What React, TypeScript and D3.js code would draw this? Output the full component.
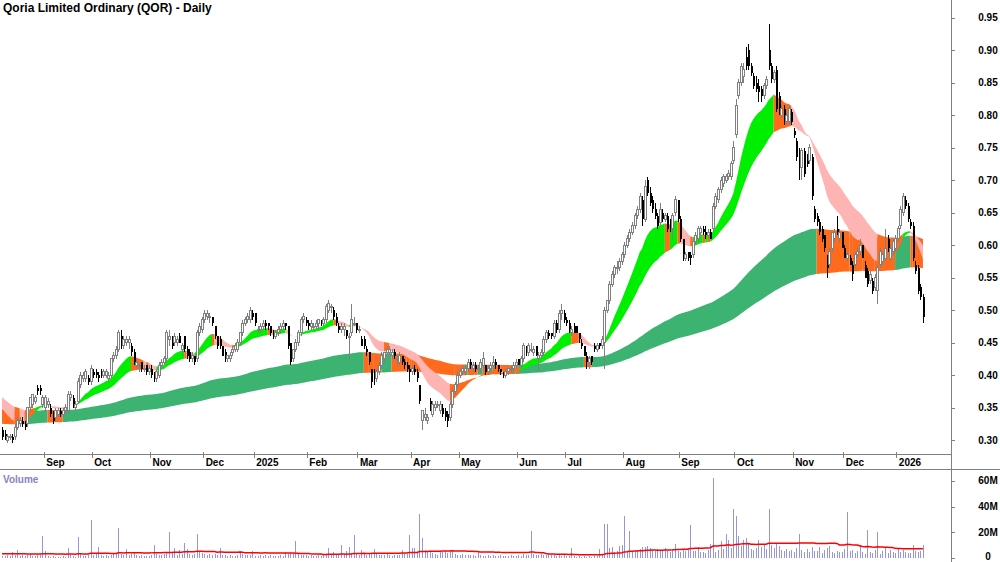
import React from 'react';
import * as d3 from 'd3';

// Qoria Limited (QOR) daily candles, prices in cents, volume in millions
const OPEN = [
  31.5, 31, 30, 30.5, 30.5, 30.5, 32, 32.5, 33, 32.5,
  32.5, 35, 35.5, 36, 38, 38, 35.5, 35, 35.5, 35,
  34.5, 33.5, 34, 34.5, 34, 34.5, 34.5, 36.5, 36.5, 35,
  36, 38.5, 39.5, 39.5, 39.5, 39, 40.5, 40.5, 40, 40.5,
  40, 40, 39.5, 40, 42.5, 43, 44, 46, 44.5, 45,
  45, 44.5, 43.5, 41.5, 41.5, 42, 41, 41.5, 40.5, 41,
  40, 39.5, 40, 41.5, 42, 42.5, 45.5, 46, 45, 45,
  46, 44, 46, 44, 43.5, 42.5, 43, 42.5, 46.5, 47,
  48.5, 49, 49, 49, 47.5, 46, 45.5, 44.5, 43.5, 42.5,
  42.5, 43.5, 44, 44, 45, 46.5, 48, 48.5, 48.5, 49.5,
  49.5, 47, 47, 47.5, 48, 48, 47.5, 46.5, 46, 46.5,
  47, 47.5, 48, 47.5, 45, 42.5, 44, 45, 46.5, 48.5,
  48.5, 48, 47.5, 47.5, 47.5, 48, 48.5, 48, 48.5, 50,
  50.5, 50, 49, 47.5, 47, 47, 47, 46, 46.5, 48,
  48, 47, 45.5, 45.5, 44, 43.5, 41, 40.5, 39.5, 40.5,
  41.5, 42.5, 43.5, 43.5, 43, 43.5, 42.5, 42, 43, 42,
  41.5, 41, 40.5, 41, 40.5, 38.5, 33, 33.5, 33, 36,
  34, 35, 35.5, 34.5, 35, 34.5, 34, 33.5, 35.5, 37.5,
  38.5, 40, 40.5, 40.5, 41, 42, 41, 41.5, 41, 41,
  41.5, 41.5, 40.5, 41, 41.5, 42, 41.5, 41, 40.5, 40,
  40.5, 41, 41, 41.5, 42.5, 41.5, 42.5, 44, 43.5, 44,
  43.5, 44.5, 42.5, 43, 43.5, 45.5, 46.5, 46.5, 46, 48,
  47, 49.5, 49.5, 48.5, 48, 46.5, 47.5, 47.5, 46.5, 45,
  44.5, 43, 42, 43, 44.5, 44, 45, 44.5, 45, 50,
  51.5, 54, 55.5, 56.5, 56.5, 57.5, 58.5, 60, 61, 62,
  63, 64.5, 65.5, 67, 64, 70, 68, 67, 65.5, 64.5,
  63.5, 65, 64, 64.5, 63, 62.5, 65, 67, 64, 61,
  58, 59, 58.5, 58.5, 60.5, 61, 62, 62.5, 62, 61.5,
  62, 62.5, 66, 67, 68.5, 69.5, 70, 70.5, 70.5, 73,
  77, 83, 85, 86, 89, 90, 87.5, 86, 85, 84.5,
  84, 83, 84.5, 90, 87.5, 85.5, 87, 83, 80, 81,
  79, 79, 80.5, 77.5, 76, 74.5, 72, 74.5, 73.5, 73,
  73.5, 65.5, 64.5, 63.5, 62.5, 61.5, 58, 57, 59.5, 61,
  62.5, 61, 62, 59.5, 58, 58, 57, 57, 58.5, 59,
  60, 57, 56, 54.5, 54.5, 53.5, 53, 57, 57.5, 58,
  61, 58, 59, 59.5, 61, 63, 65, 67, 66, 63.5,
  63, 57, 56.5, 53.5, 52,
];

const HIGH = [
  32, 31.5, 31, 31, 31, 32.5, 33.5, 33.5, 33.5, 33,
  35, 36.5, 37, 37, 38.5, 38.5, 37, 37, 36.5, 35.5,
  34.5, 35, 35, 35, 35, 35.5, 37.5, 37.5, 37, 36,
  39.5, 40.5, 40.5, 41, 40, 41.5, 41, 41, 40.5, 41,
  41, 41, 40.5, 42.5, 43.5, 44.5, 47, 47, 46, 46,
  46, 45, 44, 42.5, 42, 42, 41.5, 41.5, 41.5, 41.5,
  40.5, 41, 42, 42.5, 43, 47, 47, 46, 46.5, 46,
  46.5, 45, 46, 44.5, 44, 43.5, 43, 47, 48, 49,
  50, 50, 49.5, 49, 47.5, 46, 46, 44.5, 44, 43,
  43.5, 44.5, 45, 45.5, 46.5, 48.5, 49, 49.5, 50.5, 50,
  49.5, 47.5, 48, 48.5, 48.5, 48, 47.5, 47, 47, 47.5,
  48, 48.5, 48, 47.5, 45, 44, 45.5, 47, 49, 49.5,
  49, 48.5, 48.5, 48, 48.5, 48.5, 48.5, 49, 51, 51.5,
  51, 50.5, 49.5, 48, 48, 48, 47, 46.5, 51, 49,
  48, 47.5, 46, 46, 44.5, 43.5, 41, 41, 41, 42,
  43.5, 43.5, 44.5, 44.5, 44, 44, 43, 43.5, 43, 42.5,
  42, 41.5, 41.5, 41.5, 41, 38.5, 34.5, 35, 34, 36.5,
  36, 36, 36, 36, 35.5, 35, 34.5, 36, 38, 39,
  40.5, 41, 41.5, 41.5, 42.5, 42.5, 42, 42, 41.5, 42.5,
  43.5, 41.5, 41.5, 42, 43, 42.5, 41.5, 41, 40.5, 41,
  41, 41.5, 42, 42.5, 42.5, 43, 45, 44.5, 45, 45,
  44.5, 44.5, 43.5, 44, 46, 47, 47, 46.5, 48.5, 48.5,
  50, 51, 50, 49, 48.5, 47.5, 48, 47.5, 46.5, 45.5,
  44.5, 43.5, 43, 43, 45, 45, 45, 46, 50.5, 51.5,
  54.5, 56, 57, 57.5, 58, 59, 60.5, 61.5, 62.5, 63.5,
  65, 66, 68, 67.5, 70, 70.5, 69, 67.5, 66.5, 65,
  66.5, 65.5, 65, 65, 64, 65, 67.5, 67, 64.5, 61,
  59, 59, 59, 61, 62, 63, 63, 63, 63, 62.5,
  62.5, 66.5, 68, 69, 70.5, 71, 71, 71.5, 73, 76,
  82.5, 85.5, 88, 88, 90.5, 91, 88, 86.5, 86, 85.5,
  84.5, 85, 86, 94, 88, 87, 87.5, 83.5, 81.5, 81.5,
  80.5, 81.5, 81, 78, 76.5, 75, 75, 75, 74, 75.5,
  74, 66, 65, 64, 63, 61.5, 58.5, 59.5, 62, 62.5,
  64.5, 62.5, 62, 60, 59, 58.5, 57.5, 59, 59.5, 61,
  60, 57.5, 56.5, 56, 55, 55.5, 57, 59.5, 59, 62.5,
  61.5, 60, 61, 61.5, 63, 66, 68, 67.5, 66.5, 64,
  63.5, 57.5, 57, 54, 52.5,
];

const LOW = [
  30, 30, 29.5, 30, 29.5, 30, 31.5, 32, 32, 31.5,
  32, 34.5, 35, 35.5, 37, 37, 35, 34.5, 35, 33.5,
  32.5, 33, 33.5, 33.5, 33.5, 34, 34, 36, 35, 34.5,
  35.5, 38, 39, 39, 38.5, 38.5, 39.5, 39.5, 39, 39.5,
  39.5, 39.5, 39, 39.5, 42, 42.5, 43.5, 44, 44, 44.5,
  44, 43, 41.5, 41, 40.5, 40.5, 40.5, 40, 40, 39.5,
  39, 39, 39.5, 41, 41.5, 42, 44.5, 44, 44.5, 44.5,
  45, 43, 43.5, 42.5, 42, 42, 41.5, 42, 46, 46.5,
  48, 48.5, 48, 47.5, 45.5, 44, 44, 43, 42, 42,
  42, 43, 43.5, 43.5, 44.5, 46, 47.5, 48, 48, 48.5,
  47.5, 46.5, 46.5, 47, 47, 47, 46, 45.5, 45.5, 46,
  46.5, 47, 47, 44, 41.5, 42, 43.5, 44.5, 46, 48,
  47.5, 47, 47, 47, 47, 47, 47.5, 47.5, 48, 49.5,
  49.5, 48.5, 47.5, 46.5, 46.5, 46, 45.5, 42.5, 46, 47.5,
  46.5, 46.5, 44.5, 44, 43, 41.5, 38, 38.5, 39, 40,
  41, 42, 43, 43, 42.5, 42.5, 41.5, 41.5, 41.5, 41,
  40.5, 39, 40, 40, 39, 35.5, 31.5, 33, 32.5, 34.5,
  33.5, 34.5, 35, 34, 33.5, 33, 32, 33, 35, 37,
  38, 39.5, 40, 40, 40.5, 41, 40.5, 40.5, 40.5, 40.5,
  41, 40, 40, 40.5, 41, 41, 40.5, 40, 39.5, 39.5,
  40, 40.5, 40.5, 41, 41.5, 41, 42, 43, 43, 43.5,
  43, 43, 40.5, 42.5, 43, 45, 45.5, 45.5, 45.5, 46.5,
  46.5, 48.5, 48, 47.5, 46.5, 46, 46.5, 46.5, 45, 44,
  43, 41, 41, 41.5, 43.5, 43.5, 44, 44, 41, 49.5,
  51, 53.5, 55, 55.5, 56, 57, 58, 59.5, 60.5, 61.5,
  62.5, 64, 65, 63, 63.5, 67.5, 66, 65, 64, 62.5,
  63, 63.5, 63.5, 62, 62, 61, 64.5, 63.5, 60.5, 57.5,
  57.5, 57.5, 57, 58, 60, 60.5, 61.5, 61.5, 61, 61,
  61, 62, 65.5, 66.5, 68, 69, 69.5, 70, 70, 72.5,
  76.5, 82.5, 84.5, 85, 87, 87, 86, 84, 83.5, 82,
  82, 82.5, 84, 87, 85, 85, 80.5, 80, 79.5, 78.5,
  78.5, 78.5, 78.5, 76.5, 73, 70, 70, 70.5, 72, 72.5,
  67, 63.5, 63, 61.5, 60.5, 59, 55, 56.5, 59, 60.5,
  61.5, 60.5, 59.5, 58, 57.5, 57, 54.5, 56.5, 58, 58.5,
  58, 55, 53.5, 54, 52.5, 53, 51, 56.5, 57, 57.5,
  59, 57.5, 58.5, 59, 60.5, 62.5, 64.5, 65.5, 63.5, 62.5,
  57.5, 55.5, 52.5, 51.5, 48,
];

const CLOSE = [
  30.5, 30, 30.5, 30.5, 30, 32, 33, 33, 32.5, 32,
  35, 36.5, 37, 36.5, 37.5, 37.5, 36.5, 36.5, 36, 34,
  33, 34.5, 34.5, 34, 34.5, 35, 37, 37, 35.5, 35.5,
  39, 40, 40, 40.5, 39, 41, 40, 40, 39.5, 40,
  40.5, 40.5, 40, 42.5, 43, 44, 46.5, 45, 45.5, 45.5,
  45.5, 43.5, 42, 42, 41.5, 41, 41, 40.5, 41, 40,
  39.5, 40.5, 41.5, 42, 42.5, 46.5, 46, 44.5, 46, 45.5,
  45, 44.5, 44, 43, 42.5, 43, 42, 46.5, 47.5, 48.5,
  49.5, 49.5, 49, 48, 46, 44.5, 44.5, 43, 42.5, 43,
  43, 44, 44.5, 45, 46.5, 48, 48.5, 49, 50, 49,
  48, 47, 47.5, 48, 47.5, 47.5, 46.5, 46, 46.5, 47,
  47.5, 48, 47.5, 44.5, 42, 44, 45, 46.5, 48.5, 49,
  48, 47.5, 48, 47.5, 48, 48.5, 48, 48.5, 50.5, 51,
  50.5, 49, 48, 47, 47.5, 47.5, 46, 46, 48.5, 48,
  47, 47, 44.5, 44.5, 43.5, 42, 39, 39.5, 40.5, 41.5,
  43, 43.5, 44, 44, 43.5, 43, 42.5, 43, 42, 41.5,
  41, 40.5, 41, 40.5, 39.5, 36, 34.5, 34, 33.5, 35,
  35.5, 35.5, 35.5, 35.5, 34, 33.5, 33, 35.5, 37.5, 38.5,
  40, 40.5, 41, 41, 42, 41.5, 41.5, 41, 41, 42,
  42.5, 40.5, 41, 41.5, 42, 41.5, 41, 40.5, 40, 40.5,
  41, 41, 41.5, 42, 41.5, 42.5, 44.5, 43.5, 44.5, 44,
  44, 43, 43, 43.5, 45.5, 46.5, 46, 46, 48, 47,
  49.5, 50, 48.5, 48, 47, 47, 46.5, 46.5, 45.5, 44.5,
  43, 42, 42.5, 42, 44, 44.5, 44.5, 45.5, 50, 51.5,
  54, 55.5, 56.5, 56.5, 57.5, 58.5, 60, 61, 62, 63,
  64.5, 65.5, 67.5, 64, 69, 68, 66.5, 65.5, 64.5, 63,
  65.5, 64, 64.5, 62.5, 62.5, 64.5, 67, 64, 61, 58,
  58.5, 58, 58, 60.5, 61.5, 62.5, 62.5, 62, 61.5, 62,
  61, 66, 67.5, 68.5, 70, 70.5, 70.5, 71, 72.5, 75,
  81.5, 85, 87.5, 87, 87.5, 87.5, 86.5, 84.5, 84, 83.5,
  83, 84.5, 85.5, 87.5, 85.5, 86.5, 81, 80.5, 81, 79,
  80, 81, 79, 77, 73.5, 72, 74.5, 71, 72.5, 75,
  67.5, 64, 63.5, 62, 61, 59.5, 56.5, 59, 62, 62,
  62, 62, 59.5, 58, 58.5, 57, 55.5, 58.5, 59, 60,
  58, 55, 54, 55.5, 53, 55, 56.5, 59, 58.5, 59.5,
  59, 59.5, 60.5, 61, 62.5, 65.5, 67.5, 66, 64, 63,
  58, 56, 53, 52, 49,
];

const VOLUME = [
  2.1, 1.8, 2.5, 1.6, 5.0, 2.2, 6.7, 1.9, 2.4, 1.5,
  2.8, 3.1, 2.0, 1.7, 2.2, 2.6, 17.0, 5.5, 1.4, 1.2,
  1.8, 1.1, 0.9, 1.3, 1.6, 1.0, 7.7, 2.5, 1.4, 1.2,
  16.6, 3.2, 2.1, 1.8, 2.4, 29.5, 2.6, 3.0, 8.5, 2.2,
  1.9, 2.3, 1.5, 2.8, 3.4, 4.1, 23.5, 3.6, 2.9, 7.0,
  2.4, 3.0, 5.0, 2.2, 1.8, 2.5, 2.1, 1.6, 2.0, 2.3,
  10.0, 3.1, 2.4, 2.8, 3.3, 4.5, 20.0, 3.8, 7.7, 2.9,
  6.5, 3.2, 12.0, 7.0, 3.4, 2.5, 3.0, 18.5, 5.8, 4.0,
  3.6, 2.9, 3.3, 2.7, 3.0, 2.4, 7.7, 2.8, 2.2, 1.9,
  2.5, 2.1, 1.8, 2.6, 5.5, 3.0, 2.4, 2.2, 2.8, 5.5,
  2.0, 1.6, 2.2, 1.9, 2.5, 1.7, 2.3, 1.5, 2.1, 1.8,
  2.4, 2.0, 4.8, 3.1, 4.2, 3.5, 13.0, 3.0, 2.6, 2.9,
  2.2, 1.9, 2.4, 2.0, 1.7, 2.5, 2.1, 2.8, 3.6, 7.7,
  3.2, 5.0, 2.9, 3.4, 10.0, 3.0, 5.8, 8.5, 3.9, 18.0,
  3.3, 2.8, 6.5, 3.5, 2.9, 3.8, 4.4, 7.0, 3.1, 2.6,
  2.3, 2.8, 3.2, 2.5, 2.1, 2.7, 2.2, 2.4, 6.5, 3.0,
  3.6, 18.0, 7.7, 7.7, 4.0, 34.0, 16.0, 6.2, 4.8, 5.5,
  3.9, 3.2, 2.8, 5.5, 4.6, 5.5, 3.9, 5.5, 5.0, 3.4,
  2.9, 2.6, 3.1, 2.4, 2.7, 2.2, 2.5, 2.0, 5.0, 2.3,
  2.1, 1.8, 2.4, 2.0, 2.6, 1.9, 1.7, 2.2, 1.5, 2.0,
  1.8, 2.3, 1.6, 2.1, 2.5, 1.9, 3.0, 2.4, 2.8, 21.0,
  3.2, 2.6, 2.9, 3.5, 2.7, 2.4, 3.0, 2.2, 2.6, 2.0,
  2.4, 1.9, 2.2, 1.8, 2.0, 7.7, 1.5, 1.2, 1.4, 1.1,
  1.6, 1.3, 1.5, 1.2, 1.8, 1.4, 7.0, 2.5, 26.4, 26.4,
  7.7, 8.5, 4.6, 5.8, 9.5, 10.0, 32.8, 5.2, 21.0, 6.0,
  5.4, 6.6, 7.2, 8.4, 9.0, 9.8, 8.2, 6.5, 5.9, 7.5,
  6.2, 5.5, 7.8, 6.0, 5.2, 6.8, 11.0, 5.6, 4.9, 6.3,
  5.8, 7.2, 25.4, 6.0, 5.5, 8.5, 4.8, 5.1, 4.4, 6.2,
  11.0, 62.0, 4.5, 6.5, 13.3, 7.0, 19.0, 14.0, 8.0, 38.0,
  32.8, 17.5, 9.5, 14.0, 16.0, 11.0, 7.5, 6.8, 8.2, 14.4,
  9.0, 11.0, 7.4, 38.5, 10.5, 8.0, 11.0, 9.2, 6.5, 5.8,
  7.0, 5.5, 6.2, 4.8, 8.0, 18.7, 6.4, 5.2, 7.5, 4.6,
  8.5, 6.0, 5.3, 9.0, 4.2, 6.8, 7.6, 9.5, 5.0, 4.4,
  6.0, 5.2, 4.5, 7.0, 36.0, 5.5, 6.4, 4.0, 5.8, 10.0,
  4.8, 3.6, 22.0, 5.0, 4.2, 6.1, 20.0, 3.5, 5.5, 9.0,
  4.0, 6.2, 5.0, 3.8, 7.7, 4.5, 6.8, 5.2, 4.0, 3.9,
  10.0, 5.5, 4.8, 6.0, 10.5,
];

// month labels and the candle index that opens each month
const MONTH_LABELS = ['Sep', 'Oct', 'Nov', 'Dec', '2025', 'Feb', 'Mar', 'Apr', 'May', 'Jun', 'Jul', 'Aug', 'Sep', 'Oct', 'Nov', 'Dec', '2026'];
const MONTH_START = [17, 36, 59, 80, 100, 121, 141, 162, 181, 204, 223, 246, 268, 290, 313, 333, 354];

const PRICE_TICKS = [30, 35, 40, 45, 50, 55, 60, 65, 70, 75, 80, 85, 90, 95];
const VOLUME_TICKS = [0, 20, 40, 60];

// trend ribbons: fast and slow EMA pairs, seeded with the levels at the left edge
const FAST_PERIODS = [16, 34];
const FAST_SEED = [35.5, 37];
const SLOW_PERIODS = [150, 260];
const SLOW_SEED = [34.8, 32.5];
const VOL_MA_PERIOD = 50;
const VOL_MA_SEED = 3.6;

const W = 1000;
const H = 562;
const AXIS_X = 951;
const FONT = 'Arial, "Liberation Sans", Helvetica, sans-serif';

const COLORS = {
  fastUp: '#00ee00',
  fastDown: '#ffb4b4',
  mixed: '#ff6a1c',
  slowUp: '#3cb371',
  upCandle: '#808080',
  volume: '#9696da',
  volMa: '#ff0000',
  axis: '#808080',
};

function ema(values: number[], period: number, seed: number) {
  const k = 2 / (period + 1);
  let e = seed;
  return values.map((v) => (e = e + k * (v - e)));
}

// direction of a pair of averages: both rising, both falling, or mixed
function directions(a: number[], b: number[], seedA: number, seedB: number) {
  return a.map((v, i) => {
    const ra = v >= (i ? a[i - 1] : seedA);
    const rb = b[i] >= (i ? b[i - 1] : seedB);
    return ra && rb ? 'up' : !ra && !rb ? 'down' : 'mixed';
  });
}

function runs(states: string[]) {
  const out: { state: string; idx: number[] }[] = [];
  for (let i = 1; i < states.length; i++) {
    const last = out[out.length - 1];
    if (last && last.state === states[i]) last.idx.push(i);
    else out.push({ state: states[i], idx: [i - 1, i] });
  }
  return out;
}

export default function App() {
  const n = CLOSE.length;
  const step = 2.53;
  const x = d3.scaleLinear().domain([0, n - 1]).range([2, 2 + (n - 1) * step]);
  const yP = d3.scaleLinear().domain([30, 95]).range([440, 17.5]);
  const yV = d3.scaleLinear().domain([0, 60]).range([558.3, 480.7]);

  const fa = ema(CLOSE, FAST_PERIODS[0], FAST_SEED[0]);
  const fb = ema(CLOSE, FAST_PERIODS[1], FAST_SEED[1]);
  const sa = ema(CLOSE, SLOW_PERIODS[0], SLOW_SEED[0]);
  const sb = ema(CLOSE, SLOW_PERIODS[1], SLOW_SEED[1]);

  // fast ribbon is green only when rising and above the slow ribbon's leading line
  const fastDir = directions(fa, fb, FAST_SEED[0], FAST_SEED[1]).map((s, i) =>
    s === 'up' && fa[i] < sa[i] ? 'mixed' : s
  );
  const slowDir = directions(sa, sb, SLOW_SEED[0], SLOW_SEED[1]);
  const fastRuns = runs(fastDir);
  const slowRuns = runs(slowDir);

  const band = (a: number[], b: number[]) =>
    d3
      .area<number>()
      .x((i) => x(i))
      .y0((i) => yP(Math.min(a[i], b[i])))
      .y1((i) => yP(Math.max(a[i], b[i])));
  const fastArea = band(fa, fb);
  const slowArea = band(sa, sb);

  const volMa = VOLUME.map((_, i) => {
    const win = VOLUME.slice(Math.max(0, i - VOL_MA_PERIOD + 1), i + 1);
    const missing = VOL_MA_PERIOD - win.length;
    return (d3.sum(win) + missing * VOL_MA_SEED) / VOL_MA_PERIOD;
  });
  const maLine = d3
    .line<number>()
    .x((_, i) => x(i))
    .y((v) => yV(v));

  return (
    <div style={{ position: 'absolute', left: 0, top: 0, width: W, height: H, background: '#fff' }}>
      <svg width={W} height={H} style={{ display: 'block', fontFamily: FONT }}>
        <rect x={0} y={0} width={W} height={H} fill="#fff" />

        {/* ribbons */}
        {slowRuns.map((r, k) => (
          <path key={'s' + k} d={slowArea(r.idx) || ''} fill={r.state === 'up' ? COLORS.slowUp : COLORS.mixed} />
        ))}
        {fastRuns.map((r, k) => (
          <path
            key={'f' + k}
            d={fastArea(r.idx) || ''}
            fill={r.state === 'up' ? COLORS.fastUp : r.state === 'down' ? COLORS.fastDown : COLORS.mixed}
          />
        ))}

        {/* candles */}
        <g shapeRendering="crispEdges">
          {CLOSE.map((c, i) => {
            const o = OPEN[i];
            const up = c >= o;
            const cx = Math.round(x(i));
            const top = yP(Math.max(o, c));
            const bh = Math.max(1, yP(Math.min(o, c)) - top);
            const col = up ? COLORS.upCandle : '#000';
            return (
              <g key={i}>
                <line x1={cx + 0.5} x2={cx + 0.5} y1={yP(HIGH[i])} y2={yP(LOW[i])} stroke={col} />
                {up ? (
                  <rect x={cx - 0.5} y={top} width={2} height={bh} fill="#fff" stroke={col} />
                ) : (
                  <rect x={cx - 0.5} y={top} width={2} height={bh} fill="#000" />
                )}
              </g>
            );
          })}
        </g>

        {/* frame */}
        <g shapeRendering="crispEdges" stroke={COLORS.axis}>
          <line x1={AXIS_X + 0.5} x2={AXIS_X + 0.5} y1={0} y2={H} />
          <line x1={0} x2={AXIS_X} y1={454.5} y2={454.5} />
          <line x1={0} x2={W} y1={469.5} y2={469.5} />
          {MONTH_START.map((m, k) => {
            const tx = Math.round(x(m) - step / 2) + 0.5;
            return <line key={k} x1={tx} x2={tx} y1={452} y2={458} />;
          })}
          {PRICE_TICKS.map((p) => (
            <line key={p} x1={AXIS_X} x2={AXIS_X + 4} y1={Math.round(yP(p)) + 0.5} y2={Math.round(yP(p)) + 0.5} />
          ))}
          {VOLUME_TICKS.map((v) => (
            <line key={v} x1={AXIS_X} x2={AXIS_X + 4} y1={Math.round(yV(v)) + 0.5} y2={Math.round(yV(v)) + 0.5} />
          ))}
        </g>

        {/* labels */}
        <text x={3} y={12} fontSize={12} fontWeight="bold" fill="#000">
          Qoria Limited Ordinary (QOR) - Daily
        </text>
        {MONTH_LABELS.map((lab, k) => (
          <text key={k} x={x(MONTH_START[k]) - step / 2 + 2.5} y={466} fontSize={10} fontWeight="bold" fill="#000">
            {lab}
          </text>
        ))}
        {PRICE_TICKS.map((p) => (
          <text key={p} x={988} y={yP(p) + 3.5} fontSize={10} fontWeight="bold" textAnchor="middle" fill="#000">
            {(p / 100).toFixed(2)}
          </text>
        ))}
        {VOLUME_TICKS.map((v) => (
          <text key={v} x={988} y={Math.min(yV(v) + 3.5, 560)} fontSize={10} fontWeight="bold" textAnchor="middle" fill="#000">
            {v === 0 ? '0' : v + 'M'}
          </text>
        ))}
        <text x={3} y={483} fontSize={10} fontWeight="bold" fill="#8484c4">
          Volume
        </text>

        {/* volume */}
        <g shapeRendering="crispEdges">
          {VOLUME.map((v, i) => (
            <line
              key={i}
              x1={Math.round(x(i)) + 0.5}
              x2={Math.round(x(i)) + 0.5}
              y1={yV(0)}
              y2={yV(v)}
              stroke={COLORS.volume}
            />
          ))}
        </g>
        <path d={maLine(volMa) || ''} fill="none" stroke={COLORS.volMa} strokeWidth={1.5} />
      </svg>
    </div>
  );
}
